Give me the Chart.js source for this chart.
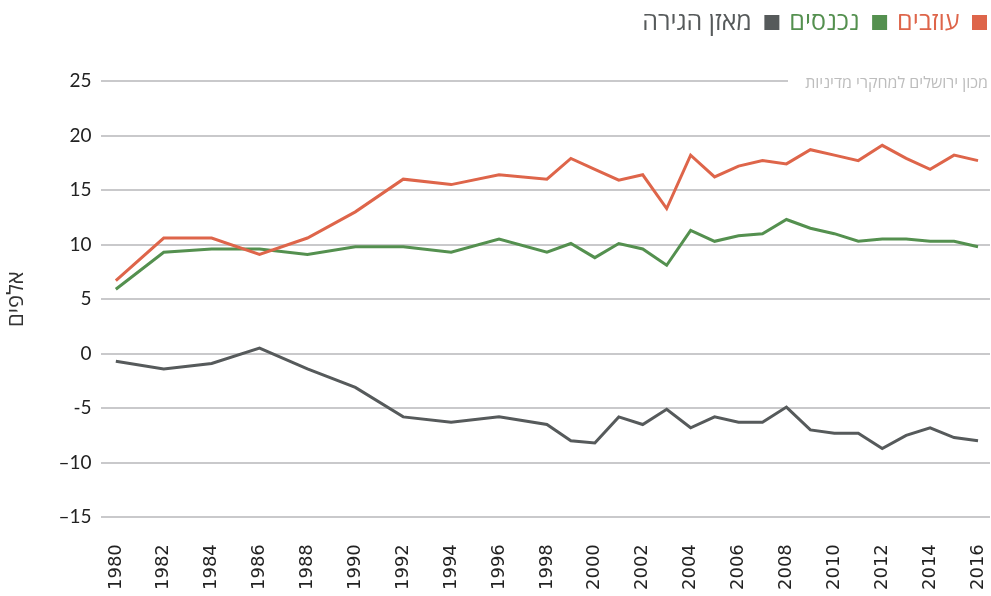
<!DOCTYPE html>
<html>
<head>
<meta charset="utf-8">
<script src="https://cdn.jsdelivr.net/npm/chart.js@4/dist/chart.umd.min.js"></script>
<style>
  body { margin: 0; background: #fff; }
  #wrap { width: 991px; height: 596px; position: relative; }
</style>
</head>
<body>
<div id="wrap"><canvas id="migChart"></canvas></div>
<script>
// נתוני הגירה (אלפים)
const years = [1980, 1982, 1984, 1986, 1988, 1990, 1992, 1994, 1996, 1998, 1999, 2000, 2001, 2002, 2003, 2004, 2005, 2006, 2007, 2008, 2009, 2010, 2011, 2012, 2013, 2014, 2015, 2016];
const leaving = [6.7, 10.6, 10.6, 9.1, 10.6, 13.0, 16.0, 15.5, 16.4, 16.0, 17.9, 16.9, 15.9, 16.4, 13.3, 18.2, 16.2, 17.2, 17.7, 17.4, 18.7, 18.2, 17.7, 19.1, 17.9, 16.9, 18.2, 17.7];
const entering = [5.9, 9.3, 9.6, 9.6, 9.1, 9.8, 9.8, 9.3, 10.5, 9.3, 10.1, 8.8, 10.1, 9.6, 8.1, 11.3, 10.3, 10.8, 11.0, 12.3, 11.5, 11.0, 10.3, 10.5, 10.5, 10.3, 10.3, 9.8];
const balance = [-0.7, -1.4, -0.9, 0.5, -1.4, -3.1, -5.8, -6.3, -5.8, -6.5, -8.0, -8.2, -5.8, -6.5, -5.1, -6.8, -5.8, -6.3, -6.3, -4.9, -7.0, -7.3, -7.3, -8.7, -7.5, -6.8, -7.7, -8.0];
const xTicks = [1980, 1982, 1984, 1986, 1988, 1990, 1992, 1994, 1996, 1998, 2000, 2002, 2004, 2006, 2008, 2010, 2012, 2014, 2016];
const yTicks = [25, 20, 15, 10, 5, 0, -5, -10, -15];
const yTickLabels = ['25', '20', '15', '10', '5', '0', '-5', '–10', '–15'];
const seriesNames = ['עוזבים', 'נכנסים', 'מאזן הגירה'];
const seriesColors = ['#de654a', '#54904f', '#565a5b'];
const sourceText = 'מכון ירושלים למחקרי מדיניות';

function toPoints(vals) {
  return years.map((y, i) => ({x: y, y: vals[i]}));
}

// רווח מתחת למקרא, והזזה ימינה
const legendGap = {
  id: 'legendGap',
  beforeInit(chart) {
    const fit = chart.legend.fit;
    chart.legend.fit = function() {
      fit.call(this);
      this.height += 36;
    };
  },
  afterLayout(chart) {
    chart.legend.left += 7;
    chart.legend.right += 7;
  }
};

// מקור - בפינה הימנית העליונה, על קו ה-25
const sourcePlugin = {
  id: 'sourceText',
  afterDraw(chart) {
    const ctx = chart.ctx;
    const a = chart.chartArea;
    ctx.save();
    ctx.fillStyle = '#fff';
    ctx.fillRect(788, a.top - 4, a.right - 788 + 2, 8);
    ctx.font = '16px "Open Sans", "DejaVu Sans", sans-serif';
    ctx.fillStyle = '#bdbdbd';
    ctx.textAlign = 'right';
    ctx.textBaseline = 'middle';
    ctx.direction = 'rtl';
    ctx.fillText(sourceText, a.right - 2, a.top + 2);
    ctx.restore();
  }
};

const ctx = document.getElementById('migChart').getContext('2d');
new Chart(ctx, {
  type: 'line',
  data: {
    datasets: [leaving, entering, balance].map((vals, i) => ({
      label: seriesNames[i],
      data: toPoints(vals),
      borderColor: seriesColors[i],
      backgroundColor: seriesColors[i],
      borderWidth: 3,
      pointRadius: 0,
      tension: 0
    }))
  },
  options: {
    responsive: true,
    maintainAspectRatio: false,
    animation: false,
    layout: {padding: {top: 0, right: 1, left: 4, bottom: 2}},
    plugins: {
      legend: {
        position: 'top',
        align: 'start',
        rtl: true,
        labels: {
          boxWidth: 15,
          boxHeight: 15,
          padding: 10,
          font: {family: '"Open Sans", "DejaVu Sans", sans-serif', size: 25},
          generateLabels(chart) {
            return chart.data.datasets.map((ds, i) => ({
              text: ds.label,
              fillStyle: seriesColors[i],
              strokeStyle: seriesColors[i],
              lineWidth: 0,
              fontColor: seriesColors[i],
              datasetIndex: i
            }));
          }
        }
      },
      tooltip: {enabled: false}
    },
    scales: {
      x: {
        type: 'linear',
        min: 1979.4,
        max: 2016.5,
        afterBuildTicks: s => { s.ticks = xTicks.map(v => ({value: v})); },
        afterFit: s => { s.paddingLeft = 0; s.paddingRight = 0; },
        grid: {display: false, drawTicks: true, tickLength: 23},
        border: {display: false},
        ticks: {
          minRotation: 90,
          maxRotation: 90,
          autoSkip: false,
          padding: 4,
          color: '#222',
          font: {family: '"DejaVu Sans", sans-serif', size: 18},
          callback: v => String(v)
        }
      },
      y: {
        min: -15,
        max: 25,
        afterBuildTicks: s => { s.ticks = yTicks.map(v => ({value: v})); },
        grid: {color: '#c9c9cb', lineWidth: 2, drawTicks: false},
        border: {display: false},
        ticks: {
          padding: 10,
          color: '#222',
          font: {family: 'Lato, sans-serif', size: 19},
          callback: v => yTickLabels[yTicks.indexOf(v)]
        },
        title: {
          display: true,
          text: 'אלפים',
          color: '#333',
          padding: {top: 0, bottom: 18},
          font: {family: '"Open Sans", "DejaVu Sans", sans-serif', size: 22}
        }
      }
    }
  },
  plugins: [legendGap, sourcePlugin]
});
</script>
</body>
</html>
